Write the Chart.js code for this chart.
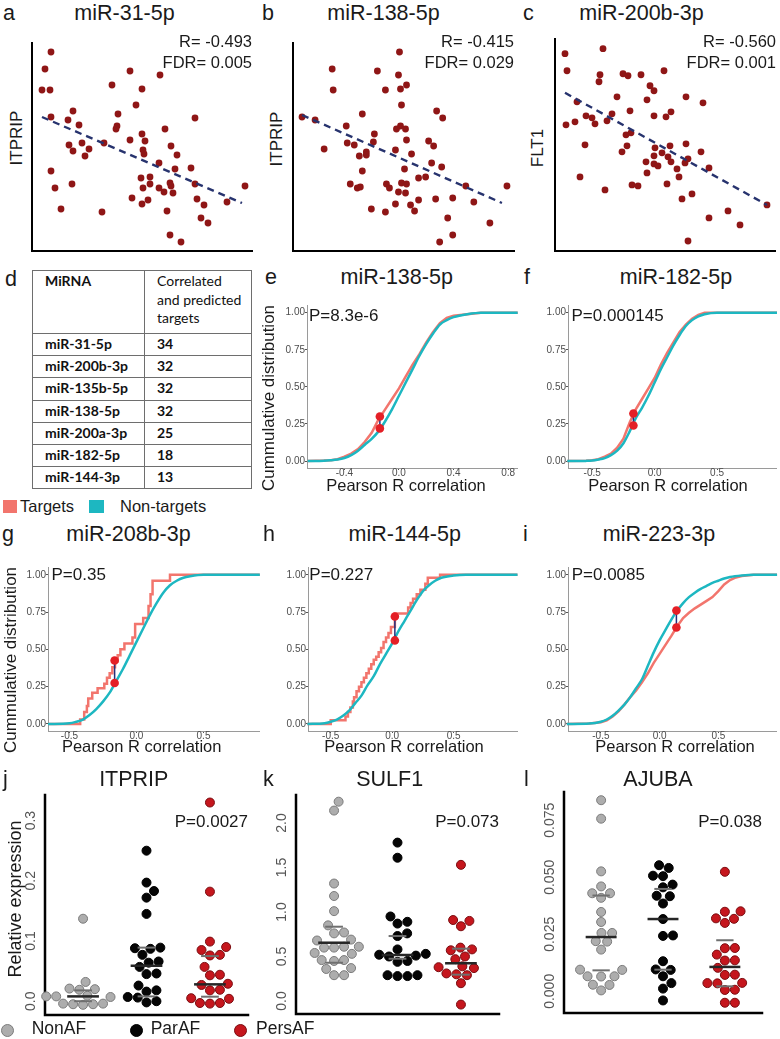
<!DOCTYPE html>
<html>
<head>
<meta charset="utf-8">
<title>miRNA targets</title>
<script src="https://cdn.jsdelivr.net/npm/chart.js@4.4.1/dist/chart.umd.min.js"></script>
<style>
  body { margin: 0; background: #fff; }
  #fig { position: relative; width: 780px; height: 1039px; overflow: hidden; font-family: "Liberation Sans", Arial, sans-serif; color: #1a1a1a; }
  #fig canvas { position: absolute; }
  .t { position: absolute; white-space: nowrap; line-height: 1; z-index: 2; }
  .sw { position: absolute; z-index: 2; }
  #tbl { position: absolute; left: 32px; top: 270px; border-collapse: collapse; table-layout: fixed; font-family: Lato, sans-serif; font-size: 14px; color: #111; }
  #tbl td { border: 1px solid #6e6e6e; padding: 0 0 0 12px; vertical-align: top; line-height: 19px; white-space: nowrap; overflow: hidden; }
  #tbl tr.h { height: 63px; }
  #tbl tr.h td { line-height: 18.7px; padding-top: 1px; }
  #tbl tr.r { height: 22.2px; }
  #tbl tr.r td { font-weight: 700; }
</style>
</head>
<body>
<div id="fig">
  <table id="tbl"><colgroup><col style="width:112px"><col style="width:107px"></colgroup><tbody id="tbody"></tbody></table>
</div>
<script>
// ---------- data ----------
// a: miR-31-5p vs ITPRIP (no axis units in the figure, arbitrary scale)
const a_x = [1.9,1.3,1.0,1.8,9.8,12.8,8.0,11.0,10.4,4.1,1.9,8.6,3.6,4.7,8.5,8.4,16.3,13.3,11.0,9.8,11.3,7.2,3.7,5.0,5.7,4.1,5.3,11.1,11.2,13.9,14.5,12.7,1.9,14.3,15.9,11.8,10.9,13.8,11.8,16.3,13.9,2.3,4.0,11.1,12.7,13.2,14.1,21.3,10.0,11.6,11.0,16.5,17.2,19.5,2.9,7.0,13.5,16.9,17.6,13.8,14.9];
const a_y = [19.8,18.1,16.0,16.0,17.9,17.5,16.5,16.1,14.5,13.9,13.3,13.6,13.0,12.5,12.4,12.1,13.2,12.1,11.6,11.0,10.9,10.7,10.5,10.7,10.1,9.9,9.4,10.0,9.6,10.4,9.5,8.7,7.9,8.1,8.2,7.3,7.2,6.7,6.6,6.6,6.4,6.2,6.6,6.2,6.2,5.8,5.7,6.4,5.2,5.0,4.6,5.1,4.5,4.8,4.1,3.8,3.9,3.2,2.7,1.5,0.8];
const a_fitX = [1.0, 21.0];
const a_fitY = [13.3, 4.7];

// b: miR-138-5p vs ITPRIP
const b_x = [10.6,3.9,8.4,10.5,4.0,9.2,10.7,11.3,10.8,14.3,0.9,2.2,6.9,14.9,5.3,10.7,10.3,11.2,8.1,11.3,13.5,3.1,5.4,6.1,8.0,14.0,10.2,7.3,7.3,6.6,11.8,13.8,14.8,11.1,6.9,13.2,12.5,5.7,6.4,6.7,9.3,9.6,10.8,11.3,17.2,21.3,10.5,11.2,12.5,14.2,15.9,18.0,10.2,11.7,7.8,9.2,12.1,15.4,19.6,15.9,14.6];
const b_y = [19.8,18.1,17.9,17.5,16.0,16.0,16.1,16.5,14.5,13.9,13.3,13.0,13.6,13.2,12.4,12.4,12.1,12.1,11.6,11.0,10.9,10.1,10.7,10.5,10.8,10.4,10.0,9.8,9.5,9.4,9.6,8.7,8.3,8.1,7.9,7.3,7.2,6.6,6.2,6.3,6.6,6.2,6.7,6.6,6.4,6.4,5.8,5.7,5.0,5.1,5.2,4.8,4.6,4.5,4.1,3.8,3.9,3.2,2.7,1.5,0.8];
const b_fitX = [0.9, 20.8];
const b_fitY = [13.5, 4.7];

// c: miR-200b-3p vs FLT1
const c_x = [1.0,4.8,1.2,4.5,4.4,6.8,7.3,8.6,10.9,9.5,9.9,6.2,9.2,13.1,14.8,2.2,7.5,11.6,9.9,11.1,3.1,3.7,5.7,5.2,2.0,1.1,4.0,7.6,7.1,3.0,7.2,6.7,10.0,11.5,13.1,10.7,14.6,9.9,11.3,13.3,9.1,9.9,10.3,11.6,13.0,12.2,15.4,9.2,12.4,2.5,7.7,8.3,11.2,5.0,13.7,12.7,21.2,17.3,15.4,18.5,13.3];
const c_y = [19.6,20.1,17.9,17.5,16.8,17.6,17.4,17.5,17.9,16.4,15.9,15.3,15.0,15.3,14.7,14.8,13.9,13.8,13.4,13.3,13.4,13.2,13.6,12.9,12.8,12.5,12.6,11.7,11.5,10.5,10.4,9.8,10.2,10.4,10.6,9.7,9.8,9.4,9.3,9.1,8.8,8.6,8.4,8.8,8.7,8.1,8.2,7.7,7.3,7.3,6.5,6.4,6.6,6.0,5.6,5.1,4.5,3.9,3.2,2.5,0.9];
const c_fitX = [1.0, 21.2];
const c_fitY = [15.7, 4.5];

// d: table
const tblMirna = ['miR-31-5p', 'miR-200b-3p', 'miR-135b-5p', 'miR-138-5p', 'miR-200a-3p', 'miR-182-5p', 'miR-144-3p'];
const tblTargets = [34, 32, 32, 32, 25, 18, 13];

// cumulative distributions (x = Pearson R, y = fraction)
const cdfTicks = [0, 0.25, 0.5, 0.75, 1];

const e_nonX = [-0.67,-0.55,-0.5,-0.45,-0.4,-0.35,-0.3,-0.25,-0.2,-0.15,-0.1,-0.05,0,0.05,0.1,0.15,0.2,0.25,0.3,0.35,0.4,0.5,0.6,0.87];
const e_nonY = [0,0.002,0.005,0.01,0.02,0.04,0.07,0.11,0.15,0.2,0.27,0.35,0.44,0.53,0.62,0.71,0.79,0.86,0.92,0.95,0.97,0.99,1,1];
const e_tarX = [-0.67,-0.55,-0.5,-0.45,-0.4,-0.35,-0.3,-0.25,-0.2,-0.15,-0.1,-0.05,0,0.05,0.1,0.15,0.2,0.25,0.3,0.35,0.4,0.5,0.6,0.87];
const e_tarY = [0,0.003,0.006,0.012,0.03,0.05,0.08,0.13,0.19,0.28,0.35,0.42,0.49,0.57,0.65,0.72,0.8,0.87,0.93,0.965,0.98,0.99,1,1];
const e_dot = [-0.14, 0.30, 0.22];

const f_nonX = [-0.7,-0.55,-0.5,-0.45,-0.4,-0.35,-0.3,-0.25,-0.2,-0.15,-0.1,-0.05,0,0.05,0.1,0.15,0.2,0.25,0.3,0.35,0.4,0.5,0.98];
const f_nonY = [0,0.001,0.003,0.01,0.02,0.04,0.07,0.12,0.2,0.29,0.36,0.44,0.53,0.62,0.7,0.78,0.85,0.91,0.95,0.975,0.99,1,1];
const f_tarX = [-0.7,-0.55,-0.5,-0.45,-0.4,-0.35,-0.3,-0.25,-0.2,-0.15,-0.1,-0.05,0,0.05,0.1,0.15,0.2,0.25,0.3,0.35,0.4,0.5,0.98];
const f_tarY = [0,0.002,0.005,0.012,0.03,0.05,0.09,0.15,0.26,0.35,0.42,0.49,0.56,0.65,0.73,0.8,0.87,0.92,0.96,0.985,1,1,1];
const f_dot = [-0.17, 0.32, 0.24];

const g_nonX = [-0.66,-0.5,-0.45,-0.4,-0.35,-0.3,-0.25,-0.2,-0.15,-0.1,-0.05,0,0.05,0.1,0.15,0.2,0.25,0.3,0.35,0.4,0.5,0.92];
const g_nonY = [0,0.005,0.015,0.03,0.06,0.1,0.15,0.21,0.29,0.37,0.46,0.55,0.64,0.73,0.81,0.88,0.93,0.96,0.98,0.99,1,1];
const g_tarX = [-0.66,-0.42,-0.39,-0.37,-0.36,-0.33,-0.29,-0.24,-0.22,-0.2,-0.18,-0.16,-0.14,-0.12,-0.09,-0.03,-0.01,0.05,0.09,0.105,0.12,0.25,0.92];
const g_tarY = [0,0.03,0.08,0.12,0.17,0.21,0.24,0.27,0.31,0.34,0.38,0.42,0.46,0.5,0.54,0.58,0.67,0.71,0.79,0.87,0.96,1,1];
const g_dot = [-0.163, 0.425, 0.275];

const h_nonX = [-0.69,-0.55,-0.5,-0.45,-0.4,-0.35,-0.3,-0.25,-0.2,-0.15,-0.1,-0.05,0,0.05,0.1,0.15,0.2,0.25,0.3,0.35,0.4,0.5,0.6,1.02];
const h_nonY = [0,0.005,0.015,0.03,0.055,0.09,0.14,0.19,0.26,0.32,0.4,0.47,0.54,0.62,0.69,0.76,0.83,0.89,0.93,0.96,0.98,0.995,1,1];
const h_tarX = [-0.69,-0.5,-0.38,-0.36,-0.34,-0.32,-0.31,-0.29,-0.27,-0.25,-0.23,-0.21,-0.19,-0.17,-0.15,-0.13,-0.11,-0.09,-0.07,-0.05,-0.03,-0.01,0.022,0.13,0.15,0.17,0.2,0.23,0.27,0.29,0.39,1.02];
const h_tarY = [0,0.025,0.05,0.08,0.11,0.15,0.18,0.22,0.25,0.28,0.31,0.34,0.37,0.4,0.43,0.45,0.48,0.51,0.55,0.58,0.61,0.65,0.74,0.78,0.81,0.84,0.87,0.9,0.94,0.98,1,1];
const h_dot = [0.022, 0.72, 0.56];

const i_nonX = [-0.79,-0.6,-0.5,-0.45,-0.4,-0.35,-0.3,-0.25,-0.2,-0.15,-0.1,-0.05,0,0.05,0.1,0.15,0.2,0.25,0.3,0.35,0.4,0.45,0.5,0.55,0.6,0.7,0.8,1.0];
const i_nonY = [0,0.003,0.015,0.03,0.055,0.09,0.13,0.18,0.24,0.3,0.39,0.48,0.56,0.63,0.7,0.76,0.81,0.85,0.88,0.905,0.925,0.945,0.96,0.975,0.985,0.995,1,1];
const i_tarX = [-0.79,-0.6,-0.5,-0.45,-0.4,-0.35,-0.3,-0.25,-0.2,-0.15,-0.1,-0.05,0,0.05,0.1,0.15,0.2,0.25,0.3,0.35,0.4,0.45,0.5,0.55,0.6,0.65,0.7,0.8,1.0];
const i_tarY = [0,0.003,0.012,0.025,0.05,0.085,0.13,0.18,0.225,0.28,0.34,0.41,0.47,0.53,0.59,0.655,0.71,0.745,0.775,0.8,0.825,0.85,0.89,0.935,0.965,0.982,0.992,1,1];
const i_dot = [0.143, 0.647, 0.76];

// relative expression per group
const groups = ['NonAF', 'ParAF', 'PersAF'];

const j_non = [0.137, 0.032, 0.021, 0.02, 0.019, 0.009, 0.008, 0.008, 0.007, -0.004, -0.004, -0.005, -0.005, -0.006];
const j_par = [0.25, 0.197, 0.183, 0.172, 0.145, 0.089, 0.088, 0.087, 0.077, 0.066, 0.064, 0.057, 0.046, 0.045, 0.026, 0.018, 0.016, 0.007, 0.006, 0.0, -0.002];
const j_pers = [0.33, 0.182, 0.099, 0.09, 0.085, 0.077, 0.076, 0.057, 0.044, 0.043, 0.029, 0.027, 0.019, 0.018, 0.005, 0.004, -0.003, -0.003, -0.004];
const j_med = [0.008, 0.059, 0.028];
const j_q1 = [0.0, 0.008, 0.0075];
const j_q3 = [0.018, 0.089, 0.075];
const j_ticks = [0, 0.1, 0.2, 0.3];

const k_non = [2.24, 2.14, 1.32, 1.18, 1.01, 0.85, 0.77, 0.76, 0.69, 0.68, 0.61, 0.61, 0.6, 0.6, 0.54, 0.53, 0.46, 0.46, 0.45, 0.37, 0.36, 0.29, 0.29];
const k_par = [1.78, 1.61, 0.95, 0.89, 0.87, 0.76, 0.73, 0.58, 0.53, 0.52, 0.51, 0.5, 0.45, 0.44, 0.29, 0.29, 0.28, 0.28];
const k_pers = [1.53, 0.91, 0.9, 0.84, 0.6, 0.58, 0.57, 0.5, 0.47, 0.39, 0.38, 0.37, 0.31, 0.3, 0.29, 0.2, -0.04];
const k_med = [0.655, 0.517, 0.424];
const k_q1 = [0.43, 0.475, 0.296];
const k_q3 = [0.835, 0.73, 0.588];
const k_ticks = [0, 0.5, 1.0, 1.5, 2.0];

const l_non = [0.0838, 0.0757, 0.0526, 0.046, 0.043, 0.043, 0.041, 0.0348, 0.0304, 0.0256, 0.0256, 0.022, 0.0218, 0.0183, 0.0095, 0.0094, 0.0066, 0.0066, 0.0065, 0.0029, 0.0028, 0.0004];
const l_par = [0.0553, 0.0541, 0.0507, 0.0505, 0.0468, 0.0456, 0.0419, 0.0417, 0.0385, 0.0317, 0.0245, 0.0243, 0.0132, 0.0096, 0.0094, 0.0066, 0.0036, 0.0012, -0.004];
const l_pers = [0.0524, 0.0351, 0.0349, 0.032, 0.0318, 0.03, 0.019, 0.0189, 0.0161, 0.0136, 0.0135, 0.0103, 0.0073, 0.0072, 0.0037, 0.0036, 0.0035, 0.0007, 0.0006, -0.005, -0.005];
const l_med = [0.0238, 0.0317, 0.0107];
const l_q1 = [0.0092, 0.0095, 0.0022];
const l_q3 = [0.042, 0.0449, 0.0224];
const l_ticks = [0, 0.025, 0.05, 0.075];

// ---------- styles ----------
const FONT = '"Liberation Sans", Arial, sans-serif';
const SALMON = '#F2756D', TEAL = '#1DB7C1', DOTRED = '#E41F26', SEG = '#232f7d';
const SCAT = '#8f1616', FIT = '#27336e';
const FILL = ['#ADADAD', '#050505', '#C5161D'];
const EDGE = ['#7b7b7b', '#000000', '#7a0c10'];

Chart.defaults.font.family = FONT;
Chart.defaults.animation = false;
Chart.defaults.responsive = false;
Chart.defaults.events = [];
Chart.defaults.plugins.legend.display = false;
Chart.defaults.plugins.tooltip.enabled = false;

const axisLines = {
  id: 'axisLines',
  beforeDatasetsDraw(chart, args, opts) {
    if (!opts.width) return;
    const { ctx, chartArea: a } = chart;
    ctx.save();
    ctx.strokeStyle = opts.color;
    ctx.lineWidth = opts.width;
    ctx.lineCap = 'square';
    ctx.beginPath();
    ctx.moveTo(a.left, a.top);
    ctx.lineTo(a.left, a.bottom);
    ctx.lineTo(a.right, a.bottom);
    ctx.stroke();
    ctx.restore();
  }
};

// rotated y tick labels of the dot plots
const vTicks = {
  id: 'vTicks',
  afterDraw(chart, args, opts) {
    if (!opts.values) return;
    const ctx = chart.ctx, ys = chart.scales.y;
    ctx.save();
    ctx.fillStyle = '#555';
    ctx.font = opts.size + 'px ' + FONT;
    ctx.textAlign = 'center';
    ctx.textBaseline = 'middle';
    opts.values.forEach(v => {
      ctx.save();
      ctx.translate(chart.chartArea.left - opts.offset, ys.getPixelForValue(v));
      ctx.rotate(-Math.PI / 2);
      ctx.fillText(v.toFixed(opts.dec), 0, 0);
      ctx.restore();
    });
    ctx.restore();
  }
};
Chart.register(axisLines, vTicks);

const fig = document.getElementById('fig');

// area = [left, top, right, bottom] of the plotting area on the page
function makeChart(area, pad, cfg) {
  const [l, t, r, b] = area;
  const cv = document.createElement('canvas');
  cv.width = Math.round(r - l + pad[0] + pad[2]);
  cv.height = Math.round(b - t + pad[1] + pad[3]);
  cv.style.left = Math.round(l - pad[0]) + 'px';
  cv.style.top = Math.round(t - pad[1]) + 'px';
  fig.appendChild(cv);
  cfg.options.devicePixelRatio = 1;
  cfg.options.layout = { padding: { left: 0, top: pad[1], right: pad[2], bottom: 0 } };
  cfg.options.scales.x.afterFit = s => { s.height = pad[3]; s.paddingLeft = 0; s.paddingRight = 0; };
  cfg.options.scales.y.afterFit = s => { s.width = pad[0]; s.paddingTop = 0; s.paddingBottom = 0; };
  return new Chart(cv, cfg);
}

function bareScale(min, max) {
  return { type: 'linear', min, max, ticks: { display: false }, grid: { display: false }, border: { display: false } };
}

const pts = (X, Y) => X.map((x, i) => ({ x, y: Y[i] }));

function scatterPanel(area, xs, ys, fx, fy, ymax) {
  return makeChart(area, [6, 6, 6, 6], {
    type: 'scatter',
    data: { datasets: [
      { type: 'line', data: pts(fx, fy), borderColor: FIT, borderWidth: 2.4, borderDash: [7, 5], pointRadius: 0, clip: false },
      { data: pts(xs, ys), pointRadius: 3.4, backgroundColor: SCAT, borderWidth: 0, clip: false }
    ] },
    options: {
      scales: { x: bareScale(0, 22), y: bareScale(-0.1, ymax) },
      plugins: { axisLines: { color: '#000', width: 2 } }
    }
  });
}

function cdfScale(min, max, ticks, dec, pad) {
  return {
    type: 'linear', min, max,
    afterBuildTicks: s => { s.ticks = ticks.map(v => ({ value: v })); },
    grid: { display: true, drawOnChartArea: false, drawTicks: true, tickLength: 2, color: '#555' },
    border: { display: true, color: '#9a9a9a', width: 1 },
    ticks: { color: '#4d4d4d', font: { size: 10, lineHeight: 1 }, padding: pad, maxRotation: 0, autoSkip: false,
             callback: v => v.toFixed(dec) }
  };
}

function ecdfPanel(area, xr, xt, nonX, nonY, tarX, tarY, dot, stepped) {
  const dots = [{ x: dot[0], y: dot[1] }, { x: dot[0], y: dot[2] }];
  return makeChart(area, [30, 4, 8, 14], {
    type: 'line',
    data: { datasets: [
      { data: dots, showLine: false, pointRadius: 4.3, pointBackgroundColor: DOTRED, pointBorderWidth: 0, clip: false },
      { data: dots, borderColor: SEG, borderWidth: 1.5, pointRadius: 0 },
      { data: pts(nonX, nonY), borderColor: TEAL, borderWidth: 2.5, pointRadius: 0, cubicInterpolationMode: 'monotone', clip: false },
      { data: pts(tarX, tarY), borderColor: SALMON, borderWidth: 2.5, pointRadius: 0, stepped: stepped ? 'before' : false, clip: false }
    ] },
    options: {
      scales: { x: cdfScale(xr[0], xr[1], xt, 1, -2), y: cdfScale(-0.047, 1.05, cdfTicks, 2, 0) }
    }
  });
}

function swarm(vals, center, chart, r) {
  const xs = chart.scales.x, ys = chart.scales.y;
  const ppu = xs.getPixelForValue(1) - xs.getPixelForValue(0);
  const d = 2 * r;
  const order = vals.map((v, i) => i).sort((p, q) => vals[p] - vals[q]);
  const placed = [];
  const out = new Array(vals.length);
  order.forEach(i => {
    const py = ys.getPixelForValue(vals[i]);
    const cands = [0];
    placed.forEach(p => {
      const dy = Math.abs(p.y - py);
      if (dy < d) { const dx = Math.sqrt(d * d - dy * dy); cands.push(p.x + dx, p.x - dx); }
    });
    cands.sort((p, q) => Math.abs(p) - Math.abs(q));
    let px = cands.find(c => placed.every(p => (c - p.x) ** 2 + (py - p.y) ** 2 >= d * d - 0.5));
    if (px === undefined) px = 0;
    placed.push({ x: px, y: py });
    out[i] = { x: center + px / ppu, y: vals[i] };
  });
  return out;
}

function dotPanel(area, yr, ticks, dec, sets, med, q1, q3) {
  const segs = [];
  [0, 1, 2].forEach(g => {
    const c = g + 1;
    segs.push({ data: [{ x: c - 0.25, y: med[g] }, { x: c + 0.25, y: med[g] }], borderColor: '#262626', borderWidth: 2.5, pointRadius: 0 });
    segs.push({ data: [{ x: c - 0.14, y: q1[g] }, { x: c + 0.14, y: q1[g] }], borderColor: '#6f6f6f', borderWidth: 2, pointRadius: 0 });
    segs.push({ data: [{ x: c - 0.14, y: q3[g] }, { x: c + 0.14, y: q3[g] }], borderColor: '#6f6f6f', borderWidth: 2, pointRadius: 0 });
  });
  const marks = sets.map((vals, g) => ({
    type: 'scatter', data: vals.map(v => ({ x: g + 1, y: v })), pointRadius: 4.5,
    backgroundColor: FILL[g], borderColor: EDGE[g], borderWidth: 1, clip: false
  }));
  const chart = makeChart(area, [40, 6, 8, 6], {
    type: 'line',
    data: { datasets: segs.concat(marks) },
    options: {
      scales: { x: bareScale(0.4, 3.6), y: bareScale(yr[0], yr[1]) },
      plugins: { axisLines: { color: '#000', width: 2.5 }, vTicks: { values: ticks, dec, offset: 14, size: 14 } }
    }
  });
  sets.forEach((vals, g) => { marks[g].data = swarm(vals, g + 1, chart, 5); });
  chart.update('none');
  return chart;
}

// ---------- text helpers ----------
function label(str, x, base, size, align) {
  const d = document.createElement('div');
  d.className = 't';
  d.textContent = str;
  d.style.fontSize = size + 'px';
  d.style.top = (base - 0.8465 * size) + 'px';
  if (align === 'right') d.style.right = (780 - x) + 'px';
  else d.style.left = x + 'px';
  if (align === 'center') d.style.transform = 'translateX(-50%)';
  fig.appendChild(d);
}
function vlabel(str, cx, cy, size) {
  const d = document.createElement('div');
  d.className = 't';
  d.textContent = str;
  d.style.fontSize = size + 'px';
  d.style.left = cx + 'px';
  d.style.top = cy + 'px';
  d.style.transform = 'translate(-50%,-50%) rotate(-90deg)';
  fig.appendChild(d);
}
function swatch(x, y, w, h, color, round, edge) {
  const d = document.createElement('div');
  d.className = 'sw';
  Object.assign(d.style, { left: x + 'px', top: y + 'px', width: w + 'px', height: h + 'px', background: color,
    borderRadius: round ? '50%' : '0', boxSizing: 'border-box', border: edge ? '1px solid ' + edge : 'none' });
  fig.appendChild(d);
}

// ---------- row 1: scatter ----------
scatterPanel([32, 43, 252, 251], a_x, a_y, a_fitX, a_fitY, 20.7);
scatterPanel([293, 43, 514, 251], b_x, b_y, b_fitX, b_fitY, 20.7);
scatterPanel([555, 39, 775, 251], c_x, c_y, c_fitX, c_fitY, 21.07);

label('a', 3, 21, 21.5); label('miR-31-5p', 124.5, 21, 21.5, 'center');
label('b', 262, 21, 21.5); label('miR-138-5p', 383.5, 21, 21.5, 'center');
label('c', 523, 21, 21.5); label('miR-200b-3p', 641.5, 21, 21.5, 'center');
label('R= -0.493', 252, 47, 16.5, 'right'); label('FDR= 0.005', 252, 68, 16.5, 'right');
label('R= -0.415', 514, 47, 16.5, 'right'); label('FDR= 0.029', 514, 68, 16.5, 'right');
label('R= -0.560', 776, 47, 16.5, 'right'); label('FDR= 0.001', 776, 68, 16.5, 'right');
vlabel('ITPRIP', 16, 138, 17); vlabel('ITPRIP', 276, 138.5, 17); vlabel('FLT1', 537, 148, 17);

// ---------- row 2: table + ECDF ----------
const tbody = document.getElementById('tbody');
tbody.innerHTML = '<tr class="h"><td><b>MiRNA</b></td><td>Correlated<br>and predicted<br>targets</td></tr>' +
  tblMirna.map((m, i) => '<tr class="r"><td>' + m + '</td><td>' + tblTargets[i] + '</td></tr>').join('');
label('d', 5, 287, 21.5);

ecdfPanel([307, 305, 517, 468], [-0.674, 0.865], [-0.4, 0, 0.4, 0.8], e_nonX, e_nonY, e_tarX, e_tarY, e_dot, false);
ecdfPanel([568, 305, 776, 468], [-0.694, 0.972], [-0.5, 0, 0.5], f_nonX, f_nonY, f_tarX, f_tarY, f_dot, false);
label('e', 265, 285.5, 21.5); label('miR-138-5p', 396.7, 285.5, 21.5, 'center');
label('f', 524, 285.5, 21.5); label('miR-182-5p', 676, 285.5, 21.5, 'center');
label('P=8.3e-6', 309, 321.5, 17); label('P=0.000145', 571.5, 321.5, 17);
vlabel('Cummulative distribution', 268, 398, 17);
label('Pearson R correlation', 406, 491, 16.5, 'center'); label('Pearson R correlation', 668, 491, 16.5, 'center');

swatch(3, 500, 14, 13, SALMON); label('Targets', 20, 511.7, 16.5);
swatch(89, 500, 15, 13, TEAL); label('Non-targets', 120, 511.7, 16.5);

// ---------- row 3: ECDF ----------
ecdfPanel([48, 567, 259, 730.5], [-0.66, 0.914], [-0.5, 0, 0.5], g_nonX, g_nonY, g_tarX, g_tarY, g_dot, true);
ecdfPanel([308, 567, 517, 730.5], [-0.685, 1.016], [-0.5, 0, 0.5], h_nonX, h_nonY, h_tarX, h_tarY, h_dot, true);
ecdfPanel([568, 567, 776, 730.5], [-0.78, 0.991], [-0.5, 0, 0.5], i_nonX, i_nonY, i_tarX, i_tarY, i_dot, false);
label('g', 2, 542.3, 21.5); label('miR-208b-3p', 128.5, 542.3, 21.5, 'center');
label('h', 263, 542.3, 21.5); label('miR-144-5p', 404.7, 542.3, 21.5, 'center');
label('i', 523, 542.3, 21.5); label('miR-223-3p', 659, 542.3, 21.5, 'center');
label('P=0.35', 51.5, 580, 17); label('P=0.227', 309.3, 580.5, 17); label('P=0.0085', 571.7, 580.5, 17);
vlabel('Cummulative distribution', 10, 660, 17);
label('Pearson R correlation', 141.7, 751.7, 16.5, 'center');
label('Pearson R correlation', 404, 751.7, 16.5, 'center');
label('Pearson R correlation', 675, 751.7, 16.5, 'center');

// ---------- row 4: dot plots ----------
dotPanel([45, 795, 248, 1015], [-0.0229, 0.3425], j_ticks, 1, [j_non, j_par, j_pers], j_med, j_q1, j_q3);
dotPanel([296, 795, 499, 1014], [-0.146, 2.315], k_ticks, 1, [k_non, k_par, k_pers], k_med, k_q1, k_q3);
dotPanel([564, 792, 762, 1013], [-0.0095, 0.0874], l_ticks, 3, [l_non, l_par, l_pers], l_med, l_q1, l_q3);
label('j', 3, 786.7, 21.5); label('ITPRIP', 133.8, 786.7, 21.5, 'center');
label('k', 263, 786.7, 21.5); label('SULF1', 389.7, 786.7, 21.5, 'center');
label('l', 524, 786.7, 21.5); label('AJUBA', 658, 786.7, 21.5, 'center');
label('P=0.0027', 248, 827.3, 17, 'right');
label('P=0.073', 499, 827.3, 17, 'right');
label('P=0.038', 762, 827.3, 17, 'right');
vlabel('Relative expression', 14.5, 898.5, 18);

swatch(1, 1024, 13, 13, FILL[0], true, EDGE[0]); label(groups[0], 31.7, 1035, 17.5);
swatch(130, 1024, 13, 13, FILL[1], true, EDGE[1]); label(groups[1], 150.7, 1035, 17.5);
swatch(233.5, 1024, 13, 13, FILL[2], true, EDGE[2]); label(groups[2], 256, 1035, 17.5);
</script>
</body>
</html>
